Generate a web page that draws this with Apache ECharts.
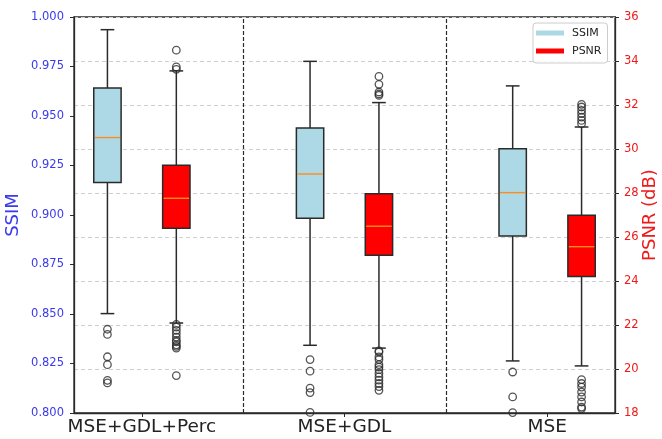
<!DOCTYPE html>
<html><head><meta charset="utf-8">
<script src="https://cdn.jsdelivr.net/npm/echarts@6/dist/echarts.min.js"></script>
<style>html,body{margin:0;padding:0;background:#fff}#c{width:662px;height:439px}</style>
</head><body><div id="c"></div>
<script>
// ---- data ----
const categories = ['MSE+GDL+Perc', 'MSE+GDL', 'MSE'];
// [whiskerLow, Q1, median, Q3, whiskerHigh]
const ssimBoxes = [
  [0.8502, 0.9164, 0.9391, 0.9641, 0.9936],
  [0.8342, 0.8983, 0.9207, 0.9439, 0.9776],
  [0.8263, 0.8894, 0.9113, 0.9335, 0.9652]
];
const psnrBoxes = [
  [22.09, 26.40, 27.76, 29.26, 33.55],
  [20.95, 25.17, 26.49, 27.97, 32.11],
  [20.14, 24.21, 25.56, 26.99, 31.00]
];
const ssimOutliers = [
  [0.8423, 0.8397, 0.8284, 0.8244, 0.8165, 0.8152],
  [0.8270, 0.8211, 0.8126, 0.8103, 0.8003],
  [0.8207, 0.8081, 0.8002]
];
const psnrOutliers = [
  [34.49, 33.73, 33.62, 22.03, 21.90, 21.76, 21.61, 21.45, 21.30, 21.23, 21.10, 21.03, 20.95, 19.70],
  [33.30, 32.94, 32.59, 32.50, 32.44, 20.82, 20.77, 20.55, 20.43, 20.20, 20.09, 19.97, 19.80, 19.64, 19.49, 19.34, 19.20, 19.03],
  [32.03, 31.91, 31.76, 31.61, 31.45, 31.30, 31.15, 19.52, 19.34, 19.18, 18.95, 18.73, 18.50, 18.27, 18.20]
];
const ssimTicks = { min: 0.8, max: 1.0, step: 0.025 };
const psnrTicks = { min: 18, max: 36, step: 2 };

// ---- layout ----
const OFFSET = 0.17, BOX_W = 0.135;
const EDGE = '#2a2a2a', MEDIAN = '#ff8c1a';
const SSIM_COLOR = '#add8e6', PSNR_COLOR = '#ff0000';
const FONT = 'DejaVu Sans';

function boxData(boxes, off) {
  return boxes.map((b, i) => [i + 1 + off].concat(b));
}
function outData(outs, off) {
  const r = [];
  outs.forEach((arr, i) => arr.forEach(v => r.push([i + 1 + off, v])));
  return r;
}
function renderBox(fill) {
  return function (params, api) {
    const x = api.value(0);
    const pLo = api.coord([x, api.value(1)]);
    const pQ1 = api.coord([x, api.value(2)]);
    const pMd = api.coord([x, api.value(3)]);
    const pQ3 = api.coord([x, api.value(4)]);
    const pHi = api.coord([x, api.value(5)]);
    const w = api.size([BOX_W, 0])[0];
    const cx = pQ1[0];
    const ls = { stroke: EDGE, lineWidth: 1.5 };
    return {
      type: 'group',
      children: [
        { type: 'line', shape: { x1: cx, y1: pLo[1], x2: cx, y2: pQ1[1] }, style: ls },
        { type: 'line', shape: { x1: cx, y1: pQ3[1], x2: cx, y2: pHi[1] }, style: ls },
        { type: 'line', shape: { x1: cx - w / 4, y1: pLo[1], x2: cx + w / 4, y2: pLo[1] }, style: ls },
        { type: 'line', shape: { x1: cx - w / 4, y1: pHi[1], x2: cx + w / 4, y2: pHi[1] }, style: ls },
        { type: 'rect', shape: { x: cx - w / 2, y: pQ3[1], width: w, height: pQ1[1] - pQ3[1] },
          style: { fill: fill, stroke: EDGE, lineWidth: 1.5 } },
        { type: 'line', shape: { x1: cx - w / 2 + 1, y1: pMd[1], x2: cx + w / 2 - 1, y2: pMd[1] },
          style: { stroke: MEDIAN, lineWidth: 1.4 } }
      ]
    };
  };
}

const chart = echarts.init(document.getElementById('c'), null, { renderer: 'canvas' });
chart.setOption({
  animation: false,
  backgroundColor: '#fff',
  textStyle: { fontFamily: FONT },
  grid: { left: 74, right: 47, top: 17, bottom: 26, containLabel: false, outerBoundsMode: 'none',
    show: true, borderColor: EDGE, borderWidth: 1.3, backgroundColor: 'transparent' },
  legend: {
    orient: 'vertical', left: 533, top: 23,
    data: [{ name: 'SSIM', icon: 'rect' }, { name: 'PSNR', icon: 'rect' }],
    itemWidth: 28, itemHeight: 5, itemGap: 4,
    padding: [3, 6, 5, 3],
    borderColor: '#cccccc', borderWidth: 1, borderRadius: 3,
    backgroundColor: 'rgba(255,255,255,0.85)',
    textStyle: { fontFamily: FONT, fontSize: 11, color: '#222', lineHeight: 14, padding: [0, 0, 0, 3] }
  },
  xAxis: {
    type: 'value', min: 0.665, max: 3.335,
    axisLine: { show: true, lineStyle: { color: EDGE, width: 1.3 } },
    axisTick: { show: true, customValues: [1, 2, 3], length: 4, lineStyle: { color: EDGE } },
    axisLabel: { customValues: [1, 2, 3], formatter: v => categories[Math.round(v) - 1],
      fontFamily: FONT, fontSize: 18.5, color: '#222', margin: 5 },
    splitLine: { show: false }
  },
  yAxis: [
    {
      type: 'value', position: 'left', min: ssimTicks.min, max: ssimTicks.max, interval: ssimTicks.step,
      name: 'SSIM', nameLocation: 'middle', nameGap: 52, nameMoveOverlap: false,
      nameTextStyle: { color: '#3a3aee', fontFamily: FONT, fontSize: 18 },
      axisLine: { show: true, lineStyle: { color: EDGE, width: 1.3 } },
      axisTick: { show: true, length: 4, lineStyle: { color: EDGE } },
      axisLabel: { color: '#3a3aee', fontFamily: FONT, fontSize: 11.5, margin: 10, formatter: v => v.toFixed(3) },
      splitLine: { show: false }
    },
    {
      type: 'value', position: 'right', min: psnrTicks.min, max: psnrTicks.max, interval: psnrTicks.step,
      name: 'PSNR (dB)', nameLocation: 'middle', nameGap: 26, nameRotate: 90, nameMoveOverlap: false,
      nameTextStyle: { color: '#f01818', fontFamily: FONT, fontSize: 18 },
      axisLine: { show: true, lineStyle: { color: EDGE, width: 1.3 } },
      axisTick: { show: true, length: 4, lineStyle: { color: EDGE } },
      axisLabel: { color: '#f01818', fontFamily: FONT, fontSize: 11.5, margin: 9 },
      splitLine: { show: true, lineStyle: { color: '#d0d0d0', type: [4, 3], width: 1 } }
    }
  ],
  series: [
    {
      name: 'SSIM', type: 'custom', xAxisIndex: 0, yAxisIndex: 0,
      itemStyle: { color: SSIM_COLOR },
      renderItem: renderBox(SSIM_COLOR),
      encode: { x: 0, y: [1, 2, 3, 4, 5] },
      data: boxData(ssimBoxes, -OFFSET), z: 3
    },
    {
      name: 'PSNR', type: 'custom', xAxisIndex: 0, yAxisIndex: 1,
      itemStyle: { color: PSNR_COLOR },
      renderItem: renderBox(PSNR_COLOR),
      encode: { x: 0, y: [1, 2, 3, 4, 5] },
      data: boxData(psnrBoxes, OFFSET), z: 3
    },
    {
      name: 'SSIM outliers', type: 'scatter', yAxisIndex: 0,
      symbol: 'circle', symbolSize: 7.5,
      itemStyle: { color: 'rgba(0,0,0,0)', borderColor: EDGE, borderWidth: 1.3 },
      data: outData(ssimOutliers, -OFFSET), z: 4,
      markLine: {
        silent: true, symbol: 'none', label: { show: false },
        lineStyle: { color: EDGE, type: [4, 2], width: 1.2 },
        data: [{ xAxis: 1.5 }, { xAxis: 2.5 }]
      }
    },
    {
      name: 'PSNR outliers', type: 'scatter', yAxisIndex: 1,
      symbol: 'circle', symbolSize: 7.5,
      itemStyle: { color: 'rgba(0,0,0,0)', borderColor: EDGE, borderWidth: 1.3 },
      data: outData(psnrOutliers, OFFSET), z: 4
    }
  ]
});
</script>
</body></html>
